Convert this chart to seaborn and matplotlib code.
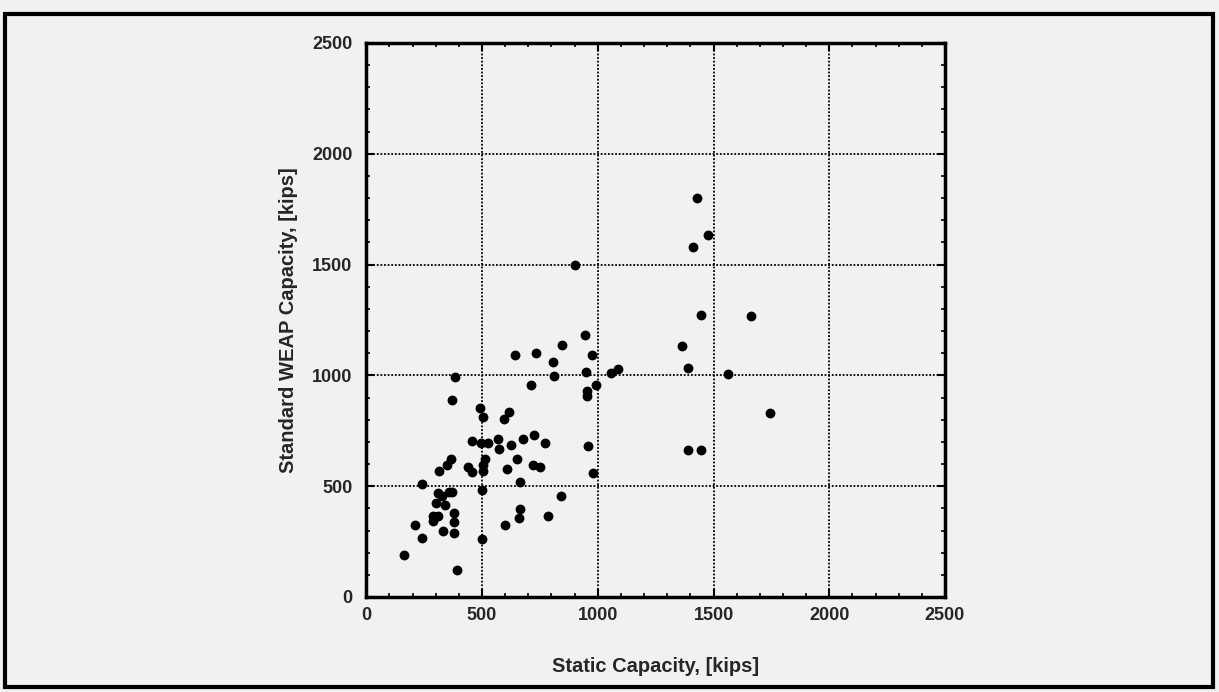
import matplotlib
matplotlib.use("Agg")
import matplotlib.pyplot as plt
import seaborn as sns
import pandas as pd
from matplotlib.patches import Rectangle
from matplotlib.ticker import MultipleLocator

static_capacity = [944, 644, 734, 847, 806, 976, 809, 951, 1087, 1058, 383, 711, 994, 954, 954,
                   369, 493, 504, 617, 596, 457, 497, 526, 570, 573, 627, 677, 724, 771, 959,
                   367, 347, 316, 440, 458, 513, 506, 504, 650, 608, 720, 751, 978, 666, 239,
                   498, 309, 329, 370, 359, 300, 340, 843, 287, 309, 286, 380, 380, 663, 660,
                   784, 601, 211, 330, 381, 241, 501, 164, 391,
                   1430, 1478, 1410, 901, 1445, 1660, 1363, 1388, 1563, 1743, 1391, 1445]
weap_capacity = [1184, 1090, 1102, 1138, 1060, 1090, 998, 1016, 1030, 1009, 993, 957, 957, 931, 909,
                 890, 851, 812, 836, 805, 703, 697, 697, 711, 666, 685, 715, 732, 697, 681,
                 621, 597, 570, 588, 564, 624, 597, 567, 624, 576, 597, 587, 561, 520, 512,
                 484, 469, 457, 473, 475, 422, 414, 454, 367, 367, 344, 378, 340, 399, 355,
                 366, 324, 324, 300, 287, 264, 263, 190, 120,
                 1800, 1634, 1580, 1498, 1271, 1266, 1133, 1035, 1008, 830, 662, 662]

x_ticks = [0, 500, 1000, 1500, 2000, 2500]
y_ticks = [0, 500, 1000, 1500, 2000, 2500]

df = pd.DataFrame({"Static": static_capacity, "WEAP": weap_capacity})

sns.set_style("white")
plt.rcParams["font.family"] = ["Liberation Sans", "DejaVu Sans"]

bg = "#f1f1f1"
fig = plt.figure(figsize=(12.19, 6.92), dpi=100, facecolor=bg)
ax = fig.add_axes([0.3005, 0.1373, 0.4747, 0.8006])
ax.set_facecolor(bg)

sns.scatterplot(data=df, x="Static", y="WEAP", ax=ax, color="black", s=50,
                edgecolor="black", linewidth=0, zorder=3)

ax.set_xlim(0, 2500)
ax.set_ylim(0, 2500)
ax.set_xticks(x_ticks)
ax.set_yticks(y_ticks)
ax.set_xticklabels([str(t) for t in x_ticks], fontsize=13, fontweight="heavy")
ax.set_yticklabels([str(t) for t in y_ticks], fontsize=13, fontweight="heavy")
ax.xaxis.set_minor_locator(MultipleLocator(100))
ax.yaxis.set_minor_locator(MultipleLocator(100))
ax.tick_params(which="both", direction="in", top=True, right=True, bottom=True, left=True,
               color="black")
ax.tick_params(which="major", length=6, width=1.5)
ax.tick_params(which="minor", length=3, width=1.2)
ax.tick_params(axis="x", which="major", pad=7)
ax.tick_params(axis="y", which="major", pad=10)

ax.grid(True, which="major", color="black", linestyle=(0, (1, 1)), linewidth=1.3)
ax.set_axisbelow(True)

for sp in ax.spines.values():
    sp.set_visible(True)
    sp.set_linewidth(2.5)
    sp.set_color("black")

ax.set_xlabel("Static Capacity, [kips]", fontsize=14.5, fontweight="heavy", labelpad=24)
ax.set_ylabel("Standard WEAP Capacity, [kips]", fontsize=14.5, fontweight="heavy", labelpad=10)

fig.patches.append(Rectangle((5 / 1219, 5 / 692), 1208 / 1219, 673 / 692,
                             transform=fig.transFigure, fill=False,
                             edgecolor="black", linewidth=3))

fig.savefig("out.png", dpi=100, facecolor=bg)
